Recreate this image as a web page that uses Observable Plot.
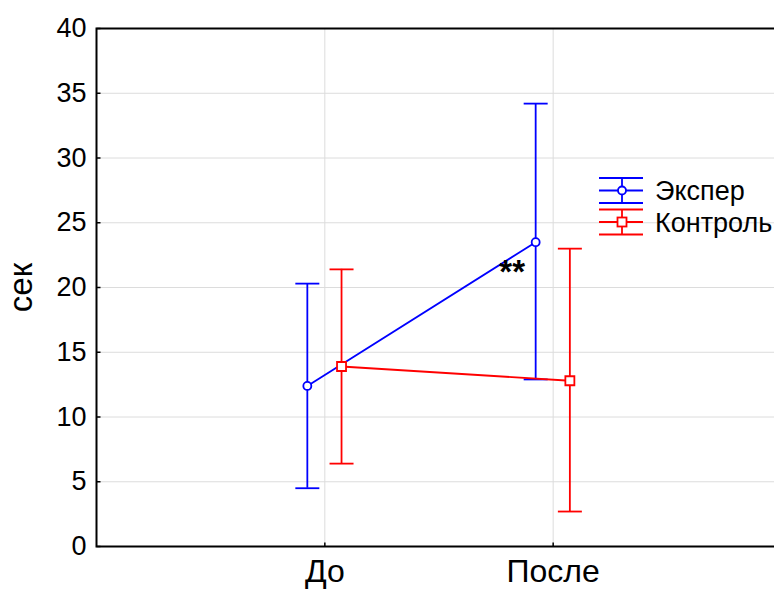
<!DOCTYPE html>
<html><head><meta charset="utf-8">
<script src="https://cdn.jsdelivr.net/npm/d3@7"></script>
<script src="https://cdn.jsdelivr.net/npm/@observablehq/plot@0.6"></script>
<style>
body{margin:0;background:#fff}
svg{font-family:"Liberation Sans",Arial,sans-serif}
</style>
</head><body><div id="chart"></div>
<script>
// ---- data ----
const categories = ["До", "После"];
const seriesNames = ["Экспер", "Контроль"];
const seriesColors = ["#0000ff", "#ff0000"];
const experMean = [12.4, 23.5];
const experLow = [4.5, 12.9];
const experHigh = [20.3, 34.2];
const controlMean = [13.9, 12.8];
const controlLow = [6.4, 2.7];
const controlHigh = [21.4, 23.0];
const yTicks = [0, 5, 10, 15, 20, 25, 30, 35, 40];
const yLabel = "сек";
const annotations = [{category: "После", y: 21.2, text: "**"}];

// ---- build table ----
const seriesData = [
  {mean: experMean, low: experLow, high: experHigh},
  {mean: controlMean, low: controlLow, high: controlHigh}
];
const rows = [];
seriesNames.forEach((s, k) => {
  categories.forEach((c, j) => {
    rows.push({series: s, category: c, i: j + 1,
      mean: seriesData[k].mean[j], low: seriesData[k].low[j], high: seriesData[k].high[j]});
  });
});
const catIndex = c => categories.indexOf(c) + 1;

// ---- symbols ----
const capSym = {draw(ctx) { ctx.moveTo(-12, 0); ctx.lineTo(12, 0); }};
const tickRight = {draw(ctx) { ctx.moveTo(0, 0); ctx.lineTo(4, 0); }};
const tickUp = {draw(ctx) { ctx.moveTo(0, 0); ctx.lineTo(0, -4); }};
const circleSym = {draw(ctx) { ctx.moveTo(4, 0); ctx.arc(0, 0, 4, 0, 2 * Math.PI); ctx.closePath(); }};
const squareSym = {draw(ctx) { ctx.rect(-4.5, -4.5, 9, 9); }};
const markerSyms = [circleSym, squareSym];
const offsets = [-17.5, 16.7];
const sw = 1.8;

const seriesMarks = seriesNames.flatMap((s, k) => {
  const d = rows.filter(r => r.series === s);
  const col = seriesColors[k];
  const dx = offsets[k];
  return [
    Plot.line(d, {x: "i", y: "mean", dx, stroke: col, strokeWidth: sw}),
    Plot.ruleX(d, {x: "i", y1: "low", y2: "high", dx, stroke: col, strokeWidth: sw}),
    Plot.dot(d, {x: "i", y: "low", dx, symbol: capSym, stroke: col, fill: "none", strokeWidth: sw}),
    Plot.dot(d, {x: "i", y: "high", dx, symbol: capSym, stroke: col, fill: "none", strokeWidth: sw}),
    Plot.dot(d, {x: "i", y: "mean", dx, symbol: markerSyms[k], stroke: col, fill: "white", strokeWidth: sw})
  ];
});

const chart = Plot.plot({
  width: 774,
  height: 590,
  marginLeft: 96,
  marginTop: 28,
  marginBottom: 44,
  marginRight: -7,
  style: {fontFamily: '"Liberation Sans", Arial, sans-serif', fontSize: "26px", color: "black", background: "white"},
  x: {domain: [0, 3], range: [96, 781]},
  y: {domain: [0, 40]},
  marks: [
    Plot.ruleY(yTicks.filter(t => t > 0 && t < 40), {stroke: "#dcdcdc", strokeWidth: 1}),
    Plot.ruleX(categories.map((c, j) => j + 1), {stroke: "#dcdcdc", strokeWidth: 1}),
    Plot.axisY(yTicks, {tickSize: 0, tickPadding: 10, fontSize: 27, label: null}),
    Plot.axisX(categories.map((c, j) => j + 1), {tickSize: 0, tickPadding: 13, fontSize: 32, label: null, tickFormat: d => categories[d - 1]}),
    Plot.text([yLabel], {frameAnchor: "left", textAnchor: "middle", rotate: -90, dx: -75, fontSize: 33, fill: "black"}),
    Plot.dot(yTicks, {x: 0, y: d => d, symbol: tickRight, stroke: "black", fill: "none", strokeWidth: 1.5}),
    Plot.dot(categories.map((c, j) => j + 1), {x: d => d, y: 0, symbol: tickUp, stroke: "black", fill: "none", strokeWidth: 1.5}),
    ...seriesMarks,
    Plot.text(annotations, {x: d => catIndex(d.category), y: "y", text: "text", dx: -41, fontSize: 33, fontWeight: "bold", fill: "black"}),
    Plot.frame({stroke: "black", strokeWidth: 2})
  ]
});
document.getElementById("chart").appendChild(chart);

// ---- legend (inside plot, top-right) ----
const svg = d3.select(chart);
const lg = svg.append("g").attr("class", "legend");
seriesNames.forEach((s, k) => {
  const cy = 190.5 + k * 31.5;
  const g = lg.append("g").attr("stroke", seriesColors[k]).attr("stroke-width", sw).attr("fill", "none");
  [-12.5, 0, 12.5].forEach(o => g.append("line").attr("x1", 599).attr("x2", 643).attr("y1", cy + o).attr("y2", cy + o));
  g.append("line").attr("x1", 622).attr("x2", 622).attr("y1", cy - 12.5).attr("y2", cy + 12.5);
  if (k === 0) g.append("circle").attr("cx", 622).attr("cy", cy).attr("r", 4).attr("fill", "white");
  else g.append("rect").attr("x", 617.5).attr("y", cy - 4.5).attr("width", 9).attr("height", 9).attr("fill", "white");
  lg.append("text").attr("x", 655).attr("y", cy).attr("dy", "0.36em").attr("text-anchor", "start")
    .attr("font-size", 27).attr("fill", "black").text(s);
});
</script>
</body></html>
